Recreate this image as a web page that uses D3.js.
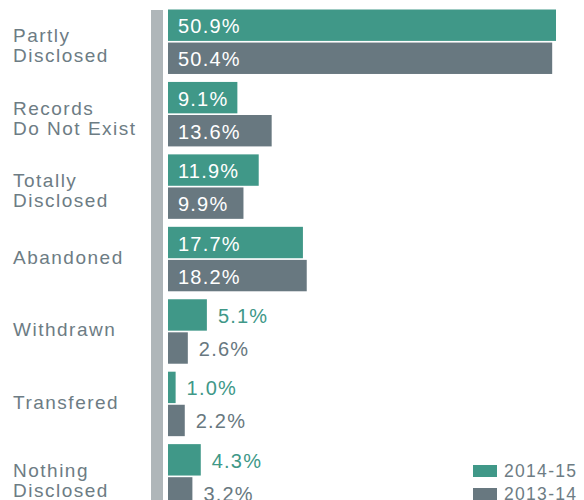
<!DOCTYPE html>
<html>
<head>
<meta charset="utf-8">
<script src="https://cdn.jsdelivr.net/npm/d3@7"></script>
<style>
body { margin: 0; background: #fff; }
svg { font-family: "Liberation Sans", Arial, sans-serif; }
</style>
</head>
<body>
<div id="chart"></div>
<script>
var categories = ["Partly\nDisclosed", "Records\nDo Not Exist", "Totally\nDisclosed", "Abandoned", "Withdrawn", "Transfered", "Nothing\nDisclosed"];
var series = ["2014-15", "2013-14"];
var values_2014_15 = [50.9, 9.1, 11.9, 17.7, 5.1, 1.0, 4.3];
var values_2013_14 = [50.4, 13.6, 9.9, 18.2, 2.6, 2.2, 3.2];

var colors = { "2014-15": "#409888", "2013-14": "#687880" };
var label_color = "#6d7c84";

var width = 584, height = 500;
var x0 = 168;

var svg = d3.select("#chart")
    .append("svg")
    .attr("width", width)
    .attr("height", height);

var data = categories.map(function(c, i) {
    return { cat: c, vals: [
        { s: "2014-15", v: values_2014_15[i] },
        { s: "2013-14", v: values_2013_14[i] }
    ] };
});

var yScale = d3.scaleBand()
    .domain(categories)
    .range([9.5, 9.5 + 7 * 71.3])
    .paddingInner(0.11)
    .paddingOuter(0);

var ySub = d3.scaleBand()
    .domain(series)
    .range([0, yScale.bandwidth()])
    .paddingInner(0.05);

var xScale = d3.scaleLinear()
    .domain([0, 50.9])
    .range([x0, 556]);

// grey spine
svg.append("rect")
    .attr("x", 151)
    .attr("y", 10)
    .attr("width", 12)
    .attr("height", height - 10)
    .style("fill", "#afb6b9");

var groups = svg.selectAll("g.group")
    .data(data)
    .enter()
    .append("g")
    .attr("class", "group")
    .attr("transform", function(d) { return "translate(0," + yScale(d.cat) + ")"; });

groups.selectAll("rect")
    .data(function(d) { return d.vals; })
    .enter()
    .append("rect")
    .attr("x", x0)
    .attr("y", function(d) { return ySub(d.s); })
    .attr("width", function(d) { return xScale(d.v) - x0; })
    .attr("height", ySub.bandwidth())
    .style("fill", function(d) { return colors[d.s]; });

groups.selectAll("text.val")
    .data(function(d) { return d.vals; })
    .enter()
    .append("text")
    .attr("class", "val")
    .attr("x", function(d) { return d.v > 8 ? x0 + 10 : xScale(d.v) + 11; })
    .attr("y", function(d) { return ySub(d.s) + ySub.bandwidth() / 2 + 8; })
    .style("font-size", "20px")
    .style("letter-spacing", "1.2px")
    .style("fill", function(d) { return d.v > 8 ? "#fff" : colors[d.s]; })
    .text(function(d) { return d.v.toFixed(1) + "%"; });

// category labels
groups.each(function(d) {
    var lines = d.cat.split("\n");
    var mid = yScale.bandwidth() / 2;
    var t = d3.select(this).append("text")
        .attr("x", 13)
        .style("font-size", "19px")
        .style("letter-spacing", "1.5px")
        .style("fill", label_color);
    lines.forEach(function(l, i) {
        t.append("tspan")
            .attr("x", 13)
            .attr("y", mid + 5 - (lines.length - 1) * 4.5 + i * 20)
            .text(l);
    });
});

// legend
var legend = svg.selectAll("g.legend")
    .data(series)
    .enter()
    .append("g")
    .attr("class", "legend")
    .attr("transform", function(d, i) { return "translate(473," + (465 + i * 23) + ")"; });

legend.append("rect")
    .attr("width", 24)
    .attr("height", 12)
    .style("fill", function(d) { return colors[d]; });

legend.append("text")
    .attr("x", 31)
    .attr("y", 12)
    .style("font-size", "17.5px")
    .style("letter-spacing", "1.3px")
    .style("fill", label_color)
    .text(function(d) { return d; });
</script>
</body>
</html>
